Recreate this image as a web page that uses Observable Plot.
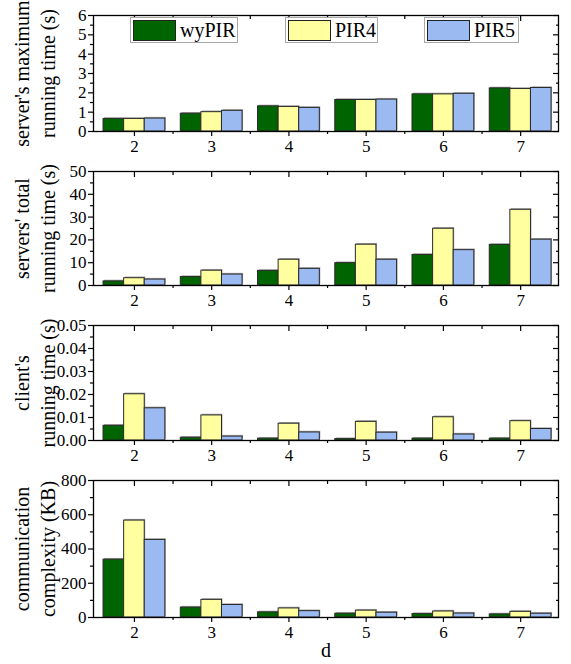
<!DOCTYPE html>
<html>
<head>
<meta charset="utf-8">
<script src="https://cdn.jsdelivr.net/npm/d3@7"></script>
<script src="https://cdn.jsdelivr.net/npm/@observablehq/plot@0.6"></script>
<style>
  body { margin: 0; background: white; }
  #wrap { position: relative; width: 571px; height: 664px; overflow: hidden; font-family: "Liberation Serif", "Times New Roman", serif; }
  #wrap svg { position: absolute; left: 0; }
  #wrap svg, #wrap svg text { font-family: "Liberation Serif", "Times New Roman", serif !important; }
  .lg { position: absolute; top: 17px; height: 26px; box-sizing: border-box; border: 1px solid #a8a8a8; background: white; display: flex; align-items: center; padding-left: 2px; font-size: 20px; color: black; }
  .sw { width: 43px; height: 21px; box-sizing: border-box; border: 1px solid #222; margin-right: 4px; }
</style>
</head>
<body>
<div id="wrap"></div>
<script>
// ---- data ----
const dValues = [2, 3, 4, 5, 6, 7];
const seriesNames = ["wyPIR", "PIR4", "PIR5"];
const seriesColors = ["#006400", "#ffffa0", "#9bbaf1"];

// server's maximum running time (s)
const maxWyPIR = [0.65, 0.92, 1.30, 1.63, 1.92, 2.23];
const maxPIR4  = [0.65, 1.00, 1.27, 1.63, 1.92, 2.20];
const maxPIR5  = [0.67, 1.07, 1.22, 1.65, 1.95, 2.25];

// servers' total running time (s)
const totWyPIR = [1.8, 3.7, 6.4, 9.8, 13.4, 17.8];
const totPIR4  = [3.2, 6.5, 11.3, 17.9, 24.9, 33.2];
const totPIR5  = [2.6, 4.8, 7.3, 11.3, 15.5, 20.1];

// client's running time (s)
const cliWyPIR = [0.0064, 0.0012, 0.0008, 0.0006, 0.0008, 0.0008];
const cliPIR4  = [0.0201, 0.0109, 0.0073, 0.0081, 0.0101, 0.0084];
const cliPIR5  = [0.0140, 0.0017, 0.0035, 0.0034, 0.0026, 0.0050];

// communication complexity (KB)
const comWyPIR = [338, 58, 30, 22, 20, 18];
const comPIR4  = [566, 103, 53, 40, 35, 33];
const comPIR5  = [453, 73, 37, 28, 23, 22];

const panelLabels = [
  ["server's maximum", "running time (s)"],
  ["servers' total", "running time (s)"],
  ["client's", "running time (s)"],
  ["communication", "complexity (KB)"]
];
const yTicks = [
  [0, 1, 2, 3, 4, 5, 6],
  [0, 10, 20, 30, 40, 50],
  [0, 0.01, 0.02, 0.03, 0.04, 0.05],
  [0, 200, 400, 600, 800]
];
const xLabel = "d";

// ---- build ----
const FONT = "Liberation Serif";
const groupFrac = 0.8;
const barW = groupFrac / seriesNames.length;

function rows(arrs) {
  return dValues.flatMap((dv, i) => seriesNames.map((s, k) => ({d: dv, s, k, v: arrs[k][i]})));
}
function minors(t) {
  const step = t[1] - t[0];
  return t.slice(0, -1).map(v => v + step / 2);
}
const boundaries = dValues.slice(0, -1).map(v => v + 0.5);

const panels = [
  {arrs: [maxWyPIR, maxPIR4, maxPIR5], top: 0,   inner: 116, mb: 30, fmt: d3.format("d")},
  {arrs: [totWyPIR, totPIR4, totPIR5], top: 156, inner: 114, mb: 30, fmt: d3.format("d")},
  {arrs: [cliWyPIR, cliPIR4, cliPIR5], top: 310, inner: 115, mb: 30, fmt: d3.format(".2f")},
  {arrs: [comWyPIR, comPIR4, comPIR5], top: 465, inner: 137, mb: 47, fmt: d3.format("d")}
];

const wrap = document.getElementById("wrap");
const MT = 15;

panels.forEach((p, i) => {
  const ticks = yTicks[i];
  const data = rows(p.arrs);
  const barOpts = {
    x1: r => r.d - groupFrac / 2 + r.k * barW,
    x2: r => r.d - groupFrac / 2 + (r.k + 1) * barW,
    y1: 0, y2: "v"
  };
  const marks = [
    // soft drop shadow behind bars
    Plot.rectY(data, {...barOpts, fill: "#a8a8a8", dx: 1, dy: -1.2}),
    Plot.rectY(data, {...barOpts, fill: "s", stroke: "#2a2a2a", strokeWidth: 1}),
    Plot.frame({stroke: "black", strokeWidth: 1.3}),
    Plot.axisY({ticks, tickSize: 5, tickPadding: 2, tickFormat: p.fmt, label: null, fontSize: 17, fontFamily: FONT, strokeWidth: 1.2}),
    Plot.axisY({ticks: minors(ticks), tickSize: 3, fill: "none", label: null, strokeWidth: 1.2}),
    Plot.axisY({anchor: "right", ticks, tickSize: -6, fill: "none", label: null, strokeWidth: 1.2}),
    Plot.axisY({anchor: "right", ticks: minors(ticks), tickSize: -3, fill: "none", label: null, strokeWidth: 1.2}),
    Plot.axisX({ticks: dValues, tickSize: 5, tickPadding: 3, tickFormat: d3.format("d"), label: null, fontSize: 17, fontFamily: FONT, strokeWidth: 1.2}),
    Plot.axisX({ticks: boundaries, tickSize: 3, fill: "none", label: null, strokeWidth: 1.2}),
    Plot.axisX({anchor: "top", ticks: dValues, tickSize: -5, fill: "none", label: null, strokeWidth: 1.2}),
    Plot.axisX({anchor: "top", ticks: boundaries, tickSize: -3, fill: "none", label: null, strokeWidth: 1.2}),
    Plot.text([panelLabels[i][0]], {frameAnchor: "left", rotate: -90, dx: -71, text: t => t, fontSize: 20, fontFamily: FONT, fill: "black", textAnchor: "middle", lineAnchor: "middle"}),
    Plot.text([panelLabels[i][1]], {frameAnchor: "left", rotate: -90, dx: -45, text: t => t, fontSize: 20, fontFamily: FONT, fill: "black", textAnchor: "middle", lineAnchor: "middle"})
  ];
  if (i === panels.length - 1) {
    marks.push(Plot.text([xLabel], {frameAnchor: "bottom", dy: 39, text: t => t, fontSize: 20, fontFamily: FONT, fill: "black"}));
  }
  const svg = Plot.plot({
    width: 571,
    height: MT + p.inner + p.mb,
    marginLeft: 93, marginRight: 13, marginTop: MT, marginBottom: p.mb,
    x: {type: "linear", domain: [1.47, 7.49]},
    y: {domain: [ticks[0], ticks[ticks.length - 1]]},
    color: {domain: seriesNames, range: seriesColors},
    style: {fontFamily: FONT, fontSize: "17px", color: "black", background: "transparent", overflow: "visible"},
    marks
  });
  svg.style.top = p.top + "px";
  wrap.appendChild(svg);
});

// legend (inside the first panel)
const legendPos = [{left: 130, width: 108}, {left: 285, width: 93}, {left: 424, width: 95}];
seriesNames.forEach((s, k) => {
  const box = document.createElement("div");
  box.className = "lg";
  box.style.left = legendPos[k].left + "px";
  box.style.width = legendPos[k].width + "px";
  const sw = document.createElement("div");
  sw.className = "sw";
  sw.style.background = seriesColors[k];
  const tx = document.createElement("span");
  tx.textContent = s;
  box.appendChild(sw);
  box.appendChild(tx);
  wrap.appendChild(box);
});
</script>
</body>
</html>
